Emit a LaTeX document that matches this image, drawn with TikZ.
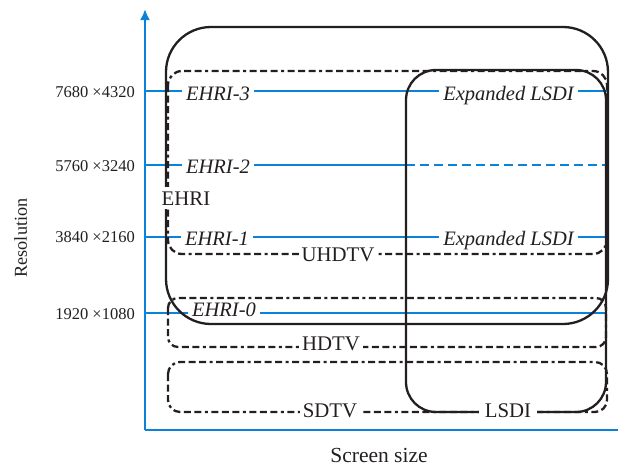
\documentclass[tikz,border=0pt]{standalone}
\usepackage{fontspec}
\setmainfont{Liberation Serif}
\usetikzlibrary{arrows.meta}
\definecolor{axblue}{RGB}{10,130,220}
\definecolor{ink}{RGB}{35,31,32}
\tikzset{
  blueline/.style={draw=axblue, line width=2.2pt},
  axisline/.style={draw=axblue, line width=2.6pt},
  solidbox/.style={draw=ink, line width=2.3pt},
  dashbox/.style={draw=ink, line width=2.3pt, dash pattern=on 7pt off 3.5pt on 7pt off 3.5pt on 7pt off 3.5pt on 3pt off 3.5pt},
  itlabel/.style={anchor=base, fill=white, inner xsep=4pt, inner ysep=2pt, text=ink, font=\fontsize{20.5}{24}\selectfont\itshape},
  rmlabel/.style={anchor=base, fill=white, inner xsep=3pt, inner ysep=2pt, text=ink, font=\fontsize{20.8}{24}\selectfont},
  numlabel/.style={anchor=base east, inner sep=0pt, text=ink, font=\fontsize{16.5}{20}\selectfont},
}
\begin{document}
\begin{tikzpicture}[x=1pt,y=-1pt]
\useasboundingbox (0,0) rectangle (618,466);
% axes
\coordinate (O) at (145,430);
\coordinate (Ytop) at (145,9);
\coordinate (Xend) at (618,430);
\draw[axisline, -{Latex[length=11pt,width=10pt]}] (O) -- (Ytop);
\draw[axisline] (O) -- (Xend);
% resolution lines
\coordinate (a1) at (145,91);   \coordinate (b1) at (607,91);
\coordinate (a2) at (145,165);  \coordinate (m2) at (406,165); \coordinate (b2) at (607,165);
\coordinate (a3) at (145,237);  \coordinate (b3) at (607,237);
\coordinate (a4) at (145,313);  \coordinate (b4) at (607,313);
\draw[blueline] (a1) -- (b1);
\draw[blueline] (a2) -- (m2);
\draw[blueline, dash pattern=on 9pt off 5pt] (m2) -- (b2);
\draw[blueline] (a3) -- (b3);
\draw[blueline] (a4) -- (b4);
% line labels
\node[itlabel] (ehri3) at (218,100) {EHRI-3};
\node[itlabel] (ehri2) at (218,173) {EHRI-2};
\node[itlabel] (ehri1) at (217,245) {EHRI-1};
\node[itlabel] (ehri0) at (224,316) {EHRI-0};
\node[itlabel] (exp1) at (508.5,100) {Expanded LSDI};
\node[itlabel] (exp2) at (508.5,245) {Expanded LSDI};
% boxes
\draw[solidbox, rounded corners=45pt] (166,27) rectangle (608,324);
\draw[solidbox, rounded corners=30pt] (406,70) rectangle (606,412);
\draw[dashbox, rounded corners=14pt] (168,71) rectangle (607,254);
\draw[dashbox, rounded corners=10pt] (168,298) rectangle (606,347);
\draw[dashbox, rounded corners=12pt] (168,362) rectangle (607,412);
% box labels
\node[rmlabel, inner xsep=1pt, inner ysep=4pt] (ehri) at (186,205) {EHRI};
\node[rmlabel] (uhdtv) at (338,261) {UHDTV};
\node[rmlabel] (hdtv) at (331,350) {HDTV};
\node[rmlabel] (sdtv) at (330,417) {SDTV};
\node[rmlabel, inner xsep=6pt] (lsdi) at (508,417) {LSDI};
% axis labels
\node[numlabel] (r1) at (135,97.3) {7680 ×4320};
\node[numlabel] (r2) at (135,171.7) {5760 ×3240};
\node[numlabel] (r3) at (135,242.7) {3840 ×2160};
\node[numlabel] (r4) at (135,319.3) {1920 ×1080};
\node[anchor=base, inner sep=0pt, text=ink, font=\fontsize{21.5}{24}\selectfont] (xlab) at (379,462) {Screen size};
\node[anchor=base, rotate=90, inner sep=0pt, text=ink, font=\fontsize{18.2}{22}\selectfont] (ylab) at (27,238) {Resolution};
\end{tikzpicture}
\end{document}
